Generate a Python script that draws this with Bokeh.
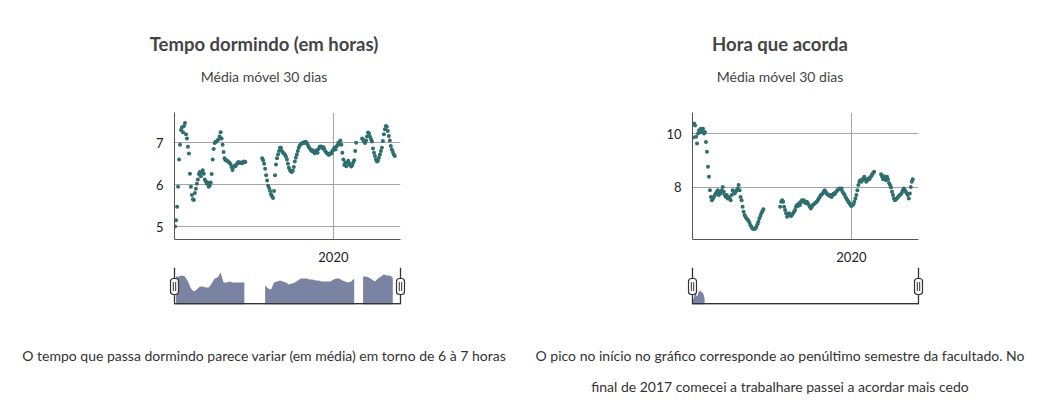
import math
import pandas as pd
from bokeh.plotting import figure
from bokeh.layouts import column, row
from bokeh.models import Div, FixedTicker, DatetimeTickFormatter, Range1d, ColumnDataSource
from bokeh.embed import file_html
from bokeh.resources import INLINE

NaN = float("nan")

# ---------------- data ----------------
domain_start = "2017-10-20"
domain_end = "2020-12-05"
year_tick = "2020-01-01"

titles = ["Tempo dormindo (em horas)", "Hora que acorda"]
subtitle = "Média móvel 30 dias"
captions = [
    "O tempo que passa dormindo parece variar (em média) em torno de 6 à 7 horas",
    "O pico no início no gráfico corresponde ao penúltimo semestre da facultado. No<br>final de 2017 comecei a trabalhare passei a acordar mais cedo",
]

# 30-day moving average of hours slept, one reading every 5 days
sleep_start = "2017-10-23"
sleep_ma = [
    5.0, 5.15, 5.47, 5.95, 6.6, 6.95, 7.3, 7.37, 7.25, 7.4, 7.47, 7.2, 7.1, 6.9, 6.74, 6.26,
    5.95, 5.75, 5.65, 5.63, 5.8, 5.9, 6.02, 6.12, 6.25, 6.3, 6.2, 6.28, 6.34, 6.26, 6.12, 6.08,
    6.02, 6.05, 5.95, 5.98, 6.05, 6.25, 6.6, 6.85, 6.99, 7.02, 7.03, 7.06, 7.08, 7.15, 7.25, 7.1,
    6.95, 6.78, 6.63, 6.58, 6.58, 6.56, 6.54, 6.52, 6.49, 6.42, 6.35, 6.42, 6.45, 6.44, 6.48, 6.51,
    6.54, 6.52, 6.52, 6.53, 6.51, 6.54, 6.55, 6.54,
    NaN, NaN, NaN, NaN, NaN, NaN, NaN, NaN, NaN, NaN, NaN, NaN, NaN, NaN, NaN, NaN,
    6.63, 6.58, 6.5, 6.38, 6.22, 6.1, 5.97, 5.92, 5.85, 5.77, 5.72, 5.68, 5.85, 6.22, 6.48, 6.63,
    6.72, 6.8, 6.88, 6.88, 6.8, 6.76, 6.74, 6.71, 6.67, 6.6, 6.5, 6.4, 6.35, 6.31, 6.3, 6.33,
    6.42, 6.55, 6.64, 6.72, 6.8, 6.88, 6.93, 6.96, 6.98, 6.99, 7.01, 6.99, 7.02, 7.0, 6.95, 6.9,
    6.87, 6.83, 6.8, 6.82, 6.79, 6.75, 6.77, 6.82, 6.76, 6.85, 6.9, 6.91, 6.9, 6.87, 6.89, 6.83,
    6.79, 6.76, 6.74, 6.71, 6.72, 6.75, 6.74, 6.8, 6.83, 6.88, 6.84, 6.9, 6.94, 7.0, 6.96, 7.05,
    6.95, 6.76, 6.6, 6.47, 6.53, 6.44, 6.52, 6.57, 6.51, 6.46, 6.43, 6.46, 6.53, 6.58, 6.8, 7.0,
    NaN, NaN, NaN, NaN, NaN,
    7.1, 7.07, 7.03, 6.99, 7.05, 7.15, 7.24, 7.22, 7.14, 7.08, 7.03, 6.86, 6.76, 6.68, 6.6, 6.55,
    6.57, 6.64, 6.72, 6.8, 6.88, 7.04, 7.2, 7.32, 7.4, 7.38, 7.28, 7.16, 7.05, 6.92, 6.84, 6.78,
    6.72, 6.68,
]

# 30-day moving average of wake-up hour, one reading every 5 days
wake_start = "2017-10-23"
wake_ma = [
    9.85, 10.37, 10.3, 9.88, 9.63, 10.0, 10.12, 10.06, 10.18, 10.06, 10.18, 10.0, 10.06, 9.69, 9.32, 8.77,
    8.4, 7.9, 7.65, 7.53, 7.59, 7.65, 7.72, 7.78, 7.84, 7.9, 7.72, 7.84, 7.78, 7.9, 8.02, 7.84,
    7.72, 7.65, 7.72, 7.59, 7.65, 7.59, 7.53, 7.72, 7.9, 7.84, 7.78, 7.84, 7.9, 7.96, 8.09, 7.9,
    7.65, 7.53, 7.28, 7.1, 6.98, 6.91, 6.85, 6.81, 6.77, 6.69, 6.6, 6.54, 6.48, 6.46, 6.46, 6.48,
    6.54, 6.64, 6.73, 6.85, 6.94, 7.04, 7.12, 7.19,
    NaN, NaN, NaN, NaN, NaN, NaN, NaN, NaN, NaN, NaN, NaN, NaN, NaN, NaN, NaN, NaN,
    7.28, 7.47, 7.53, 7.47, 7.28, 7.16, 7.04, 6.91, 6.98, 7.04, 6.98, 6.94, 6.98, 7.04, 7.1, 7.16,
    7.28, 7.35, 7.31, 7.41, 7.35, 7.47, 7.53, 7.47, 7.53, 7.47, 7.41, 7.47, 7.41, 7.35, 7.28, 7.22,
    7.28, 7.35, 7.38, 7.41, 7.44, 7.47, 7.53, 7.59, 7.65, 7.72, 7.74, 7.78, 7.84, 7.9, 7.84, 7.78,
    7.74, 7.72, 7.68, 7.72, 7.65, 7.72, 7.78, 7.75, 7.81, 7.86, 7.9, 7.93, 7.96, 7.93, 7.96, 7.84,
    7.78, 7.74, 7.65, 7.59, 7.53, 7.47, 7.41, 7.35, 7.31, 7.35, 7.38, 7.47, 7.59, 7.72, 7.9, 8.09,
    8.21, 8.27, 8.21, 8.27, 8.33, 8.4, 8.3, 8.21, 8.27, 8.33, 8.3, 8.37, 8.42, 8.49, 8.54, 8.58,
    NaN, NaN, NaN, NaN, NaN, NaN,
    8.49, 8.4, 8.3, 8.42, 8.33, 8.27, 8.4, 8.3, 8.17, 8.09, 8.0, 7.84, 7.72, 7.59, 7.53, 7.56,
    7.59, 7.65, 7.68, 7.72, 7.75, 7.8, 7.9, 7.96, 7.9, 7.84, 7.78, 7.72, 7.59, 7.78, 8.02, 8.21,
    8.3,
]

# overview (navigator) series, one reading every 15 days
sleep_nav_start = "2017-10-28"
sleep_nav = [
    7.15, 7.15, 7.26, 7.15, 6.59, 5.8, 5.46, 5.69, 6.03, 6.03, 5.91, 5.91, 6.36, 6.93, 7.04, 7.6,
    6.48, 6.48, 6.59, 6.48, 6.48, 6.48, 6.48, 6.48,
    NaN, NaN, NaN, NaN, NaN, NaN,
    6.14, 5.8, 5.69, 6.48, 6.59, 6.7, 6.59, 6.48, 6.25, 6.36, 6.48, 6.7, 6.93, 6.93, 6.93, 6.81,
    6.81, 6.7, 6.7, 6.59, 6.59, 6.59, 6.59, 6.81, 6.93, 6.93, 6.7, 6.59, 6.48, 6.59, 6.93,
    NaN, NaN,
    7.15, 7.15, 7.04, 6.81, 6.59, 6.93, 7.15, 7.38, 7.26, 7.26, 7.04,
]
# overview of wake-up hour, one reading every 5 days (only the start is drawn)
wake_nav_start = "2017-10-21"
wake_nav = [9.5, 9.2, 9.55, 9.6, 9.4, 9.45, 9.65, 9.65, 9.7, 9.6, 9.6, 9.5, 9.3]

sleep_yrange = (4.69, 7.72)
wake_yrange = (6.07, 10.78)
sleep_yticks = [5, 6, 7]
wake_yticks = [8, 10]
sleep_nav_yrange = (4.0, 8.16)
wake_nav_yrange = (9.0, 10.85)

# ---------------- styling ----------------
DOT = "#2e6e6e"
AREA = "#7b83a2"
GRID = "#a4a4a4"
AXIS = "#555555"
DARK = "#333333"
FONT = "Lato"
FRAME_W = 226
FRAME_H = 127
NAV_H = 37
NAV_PAD = 6


def ms(s):
    return pd.Timestamp(s).value / 1e6


def runs(xs, ys):
    out, cx, cy = [], [], []
    for x, y in zip(xs, ys):
        if y is None or (isinstance(y, float) and math.isnan(y)):
            if cx:
                out.append((cx, cy))
            cx, cy = [], []
        else:
            cx.append(x)
            cy.append(y)
    if cx:
        out.append((cx, cy))
    return out


def panel(title, caption, start, vals, nav_start, nav_vals, nav_step, yrange, yticks, nav_yrange,
          col_w, border_left):
    d0, d1 = ms(domain_start), ms(domain_end)
    px_ms = (d1 - d0) / FRAME_W
    border_right = col_w - border_left - FRAME_W

    head = Div(
        text=(f'<div style="width:{col_w}px;text-align:center;font-family:{FONT};color:#444;">'
              f'<div style="font-weight:bold;font-size:18.5px;line-height:22px;padding-top:25px">{title}</div>'
              f'<div style="font-size:14px;line-height:17px;margin-top:13px">{subtitle}</div></div>'),
        width=col_w, height=92, margin=0)

    dates = pd.date_range(start, periods=len(vals), freq="5D")
    src = ColumnDataSource(dict(date=dates, v=vals))
    p = figure(frame_width=FRAME_W, frame_height=FRAME_H, x_axis_type="datetime",
               x_range=Range1d(d0, d1), y_range=Range1d(*yrange),
               output_backend="svg", toolbar_location=None,
               min_border_left=border_left, min_border_right=border_right,
               min_border_top=12, min_border_bottom=23, margin=0)
    p.scatter("date", "v", source=src, size=4, color=DOT, line_color=None)
    p.xaxis.ticker = FixedTicker(ticks=[ms(year_tick)])
    p.xaxis.formatter = DatetimeTickFormatter(
        microseconds="%Y", milliseconds="%Y", seconds="%Y", minsec="%Y", minutes="%Y",
        hourmin="%Y", hours="%Y", days="%Y", months="%Y", years="%Y")
    p.yaxis.ticker = FixedTicker(ticks=yticks)
    p.grid.grid_line_color = GRID
    p.outline_line_color = None
    for ax in (p.xaxis, p.yaxis):
        ax.axis_line_color = AXIS
        ax.major_tick_line_color = None
        ax.minor_tick_line_color = None
        ax.major_label_text_font = FONT
        ax.major_label_text_font_size = "13px"
        ax.major_label_text_color = "#222222"
    p.yaxis.major_label_standoff = 5
    p.xaxis.major_label_standoff = 6

    # overview strip with brush handles (frame a little wider than the chart)
    pad = NAV_PAD * px_ms
    n = figure(frame_width=FRAME_W + 2 * NAV_PAD, frame_height=NAV_H, x_axis_type="datetime",
               x_range=Range1d(d0 - pad, d1 + pad), y_range=Range1d(*nav_yrange),
               output_backend="svg", toolbar_location=None,
               x_axis_location=None, y_axis_location=None,
               min_border_left=border_left - NAV_PAD, min_border_right=border_right - NAV_PAD,
               min_border_top=3, min_border_bottom=10, margin=0)
    n.grid.visible = False
    n.outline_line_color = None
    ndates = [ms(d) for d in pd.date_range(nav_start, periods=len(nav_vals), freq=nav_step)]
    for xs, ys in runs(ndates, nav_vals):
        n.varea(x=xs, y1=[nav_yrange[0]] * len(xs), y2=ys, fill_color=AREA)
    ymin, ymax = nav_yrange
    py = (ymax - ymin) / NAV_H
    n.segment(x0=[d0], y0=[ymin + 0.7 * py], x1=[d1], y1=[ymin + 0.7 * py], line_color=DARK, line_width=1.8)
    n.segment(x0=[d0, d1], y0=[ymin, ymin], x1=[d0, d1], y1=[ymax, ymax], line_color=DARK, line_width=1.3)
    mid = ymax - 19 * py
    n.rect(x=[d0, d1], y=[mid, mid], width=8, height=16, width_units="screen", height_units="screen",
           fill_color="white", line_color=DARK, line_width=1.2, border_radius=3)
    xs0 = [d0 - 1.2 * px_ms, d0 + 1.2 * px_ms, d1 - 1.2 * px_ms, d1 + 1.2 * px_ms]
    n.segment(x0=xs0, y0=[mid - 4.5 * py] * 4, x1=xs0, y1=[mid + 4.5 * py] * 4, line_color=DARK, line_width=1)
    nav_box = row(n, spacing=0, margin=0)

    cap = Div(
        text=(f'<div style="width:{col_w}px;text-align:center;font-family:{FONT};font-size:14px;'
              f'line-height:31px;color:#333;padding-top:26px">{caption}</div>'),
        width=col_w, height=89, margin=0)
    return column(head, p, nav_box, cap, spacing=0, margin=0)


left = panel(titles[0], captions[0], sleep_start, sleep_ma, sleep_nav_start, sleep_nav, "15D",
             sleep_yrange, sleep_yticks, sleep_nav_yrange, 512, 166)
right = panel(titles[1], captions[1], wake_start, wake_ma, wake_nav_start, wake_nav, "5D",
              wake_yrange, wake_yticks, wake_nav_yrange, 520, 172)
layout = row(left, right, spacing=0, margin=(8, 0, 0, 8))

open("out.html", "w").write(file_html(layout, INLINE))
